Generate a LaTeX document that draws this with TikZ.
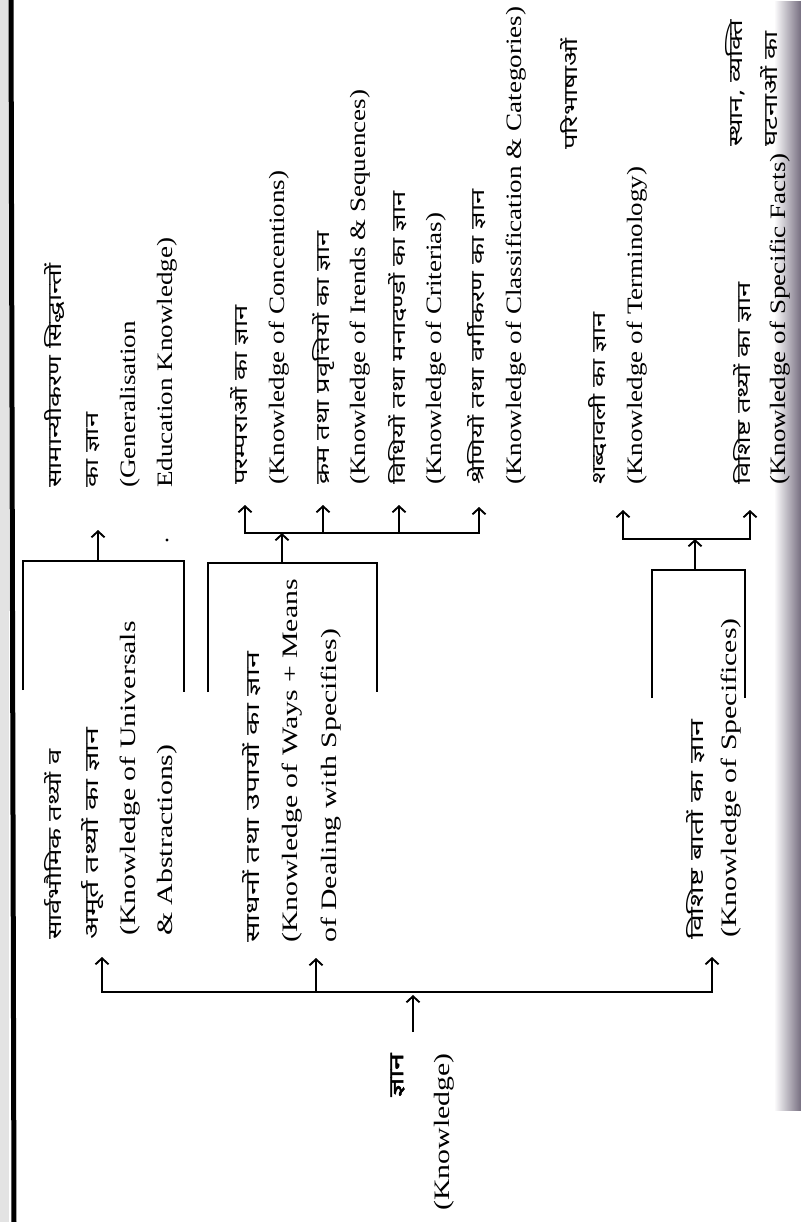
\documentclass[tikz,border=0pt]{standalone}
\usepackage{fontspec}
\setmainfont{Liberation Serif}[FakeStretch=1.355]
\newfontfamily\entop{Liberation Serif}[FakeStretch=1.23]
\newfontfamily\hindi{Noto Sans}[Script=Devanagari, FakeStretch=1.44]
\newfontfamily\hindiwide{Noto Sans}[Script=Devanagari, FakeStretch=1.6]
\newfontfamily\hindibold{Noto Sans}[Script=Devanagari, FakeStretch=1.5, FakeBold=2.5]
\usetikzlibrary{arrows.meta,fadings}

\definecolor{edgeshade}{RGB}{118,110,128}

\tikzset{
  en/.style={rotate=90, anchor=base west, inner sep=0pt,
             font=\fontsize{22}{26}\selectfont},
  entop/.style={en, font=\fontsize{22}{26}\selectfont\entop},
  hi/.style={rotate=90, anchor=base west, inner sep=0pt,
             font=\fontsize{19}{23}\selectfont\hindi},
  hiwide/.style={hi, font=\fontsize{19}{23}\selectfont\hindiwide},
  link/.style={line width=1.9pt},
  arr/.style={link, -{Straight Barb[length=6pt,width=13pt]}},
}

\begin{document}
\begin{tikzpicture}[x=1pt,y=-1pt]
\useasboundingbox (0,0) rectangle (801,1222);
\clip (0,0) rectangle (801,1222);

% page edges: binding line on the left, shadow on the right
\fill[gray!22] (0,0) rectangle (9,1222);
\draw[line width=5pt] (11,0) -- (14,1222);
\fill[edgeshade, path fading=west] (774,0) rectangle (801,1110);

% ---------------- root ----------------
\node[hi, anchor=base east, font=\fontsize{20}{24}\selectfont\hindibold] (root) at (403,1053) {ज्ञान};
\node[en, anchor=base east] (rootEn) at (449,1053) {(Knowledge)};
\coordinate (rootTail) at (413,1032);
\coordinate (rootTip) at (413,995);
\draw[arr] (rootTail) -- (rootTip);

% trunk with three branches
\coordinate (t0) at (413,992);
\coordinate (t1) at (102,992);
\coordinate (t2) at (316,992);
\coordinate (t3) at (712,992);
\coordinate (a1) at (102,957);
\coordinate (a2) at (316,958);
\coordinate (a3) at (712,957);
\draw[arr] (t0) -- (t1) -- (a1);
\draw[arr] (t0) -- (t3) -- (a3);
\draw[arr] (t2) -- (a2);

% ---------------- branch 1 ----------------
\node[hi] (u1) at (61,940) {सार्वभौमिक तथ्यों व};
\node[hiwide] (u2) at (98,940) {अमूर्त तथ्यों का ज्ञान};
\node[en] (u3) at (135,936) {(Knowledge of Universals};
\node[en] (u4) at (172,936) {\& Abstractions)};

\coordinate (b1a) at (23,690);
\coordinate (b1b) at (23,561);
\coordinate (b1c) at (184,561);
\coordinate (b1d) at (184,692);
\draw[link] (b1a) -- (b1b) -- (b1c) -- (b1d);
\coordinate (b1m) at (98,561);
\coordinate (gTip) at (98,530);
\draw[arr] (b1m) -- (gTip);
\fill (167,540) circle[radius=1.7pt];

\node[hi] (g1) at (61,488) {सामान्यीकरण सिद्धान्तों};
\node[hi] (g2) at (98,488) {का ज्ञान};
\node[entop] (g3) at (135,488) {(Generalisation};
\node[entop] (g4) at (172,488) {Education Knowledge)};

% ---------------- branch 2 ----------------
\node[hiwide] (w1) at (259,943) {साधनों तथा उपायों का ज्ञान};
\node[en] (w2) at (297,943) {(Knowledge of Ways + Means};
\node[en] (w3) at (336,943) {of Dealing with Specifies)};

\coordinate (b2a) at (208,692);
\coordinate (b2b) at (208,563);
\coordinate (b2c) at (377,563);
\coordinate (b2d) at (377,692);
\draw[link] (b2a) -- (b2b) -- (b2c) -- (b2d);
\coordinate (b2m) at (282,563);
\coordinate (d2m) at (282,533);
\draw[arr] (b2m) -- (d2m);

\coordinate (d2a) at (245,533);
\coordinate (d2b) at (323,533);
\coordinate (d2c) at (399,533);
\coordinate (d2d) at (479,533);
\coordinate (ca) at (245,505);
\coordinate (cb) at (323,505);
\coordinate (cc) at (399,505);
\coordinate (cd) at (479,507);
\draw[arr] (d2m) -- (d2a) -- (ca);
\draw[arr] (d2m) -- (d2d) -- (cd);
\draw[arr] (d2b) -- (cb);
\draw[arr] (d2c) -- (cc);

\node[hi] (c1) at (247,485) {परम्पराओं का ज्ञान};
\node[entop] (c2) at (284,485) {(Knowledge of Concentions)};
\node[hi] (s1) at (329,485) {क्रम तथा प्रवृत्तियों का ज्ञान};
\node[entop] (s2) at (365,485) {(Knowledge of Irends \& Sequences)};
\node[hi] (r1) at (405,485) {विधियों तथा मनादण्डों का ज्ञान};
\node[entop] (r2) at (441,485) {(Knowledge of Criterias)};
\node[hi] (k1) at (484,485) {श्रेणियों तथा वर्गीकरण का ज्ञान};
\node[entop] (k2) at (521,485) {(Knowledge of Classification \& Categories)};

% ---------------- branch 3 ----------------
\node[hiwide] (x1) at (703,940) {विशिष्ट बातों का ज्ञान};
\node[en] (x2) at (736,938) {(Knowledge of Specifices)};

\coordinate (b3a) at (652,698);
\coordinate (b3b) at (652,570);
\coordinate (b3c) at (745,570);
\coordinate (b3d) at (745,698);
\draw[link] (b3a) -- (b3b) -- (b3c) -- (b3d);
\coordinate (b3m) at (695,570);
\coordinate (d3m) at (695,539);
\draw[arr] (b3m) -- (d3m);
\coordinate (d3a) at (623,539);
\coordinate (d3b) at (750,539);
\coordinate (ta) at (623,510);
\coordinate (tb) at (750,510);
\draw[arr] (d3m) -- (d3a) -- (ta);
\draw[arr] (d3m) -- (d3b) -- (tb);

\node[hi] (p1) at (577,150) {परिभाषाओं};
\node[hi] (m1) at (605,485) {शब्दावली का ज्ञान};
\node[entop] (m2) at (642,485) {(Knowledge of Terminology)};
\node[hi] (f1) at (750,485) {विशिष्ट तथ्यों का ज्ञान};
\node[entop] (f2) at (785,485) {(Knowledge of Specific Facts)};
\node[hi] (v1) at (742,147) {स्थान, व्यक्ति};
\node[hi] (v2) at (777,147) {घटनाओं का};
\end{tikzpicture}
\end{document}
